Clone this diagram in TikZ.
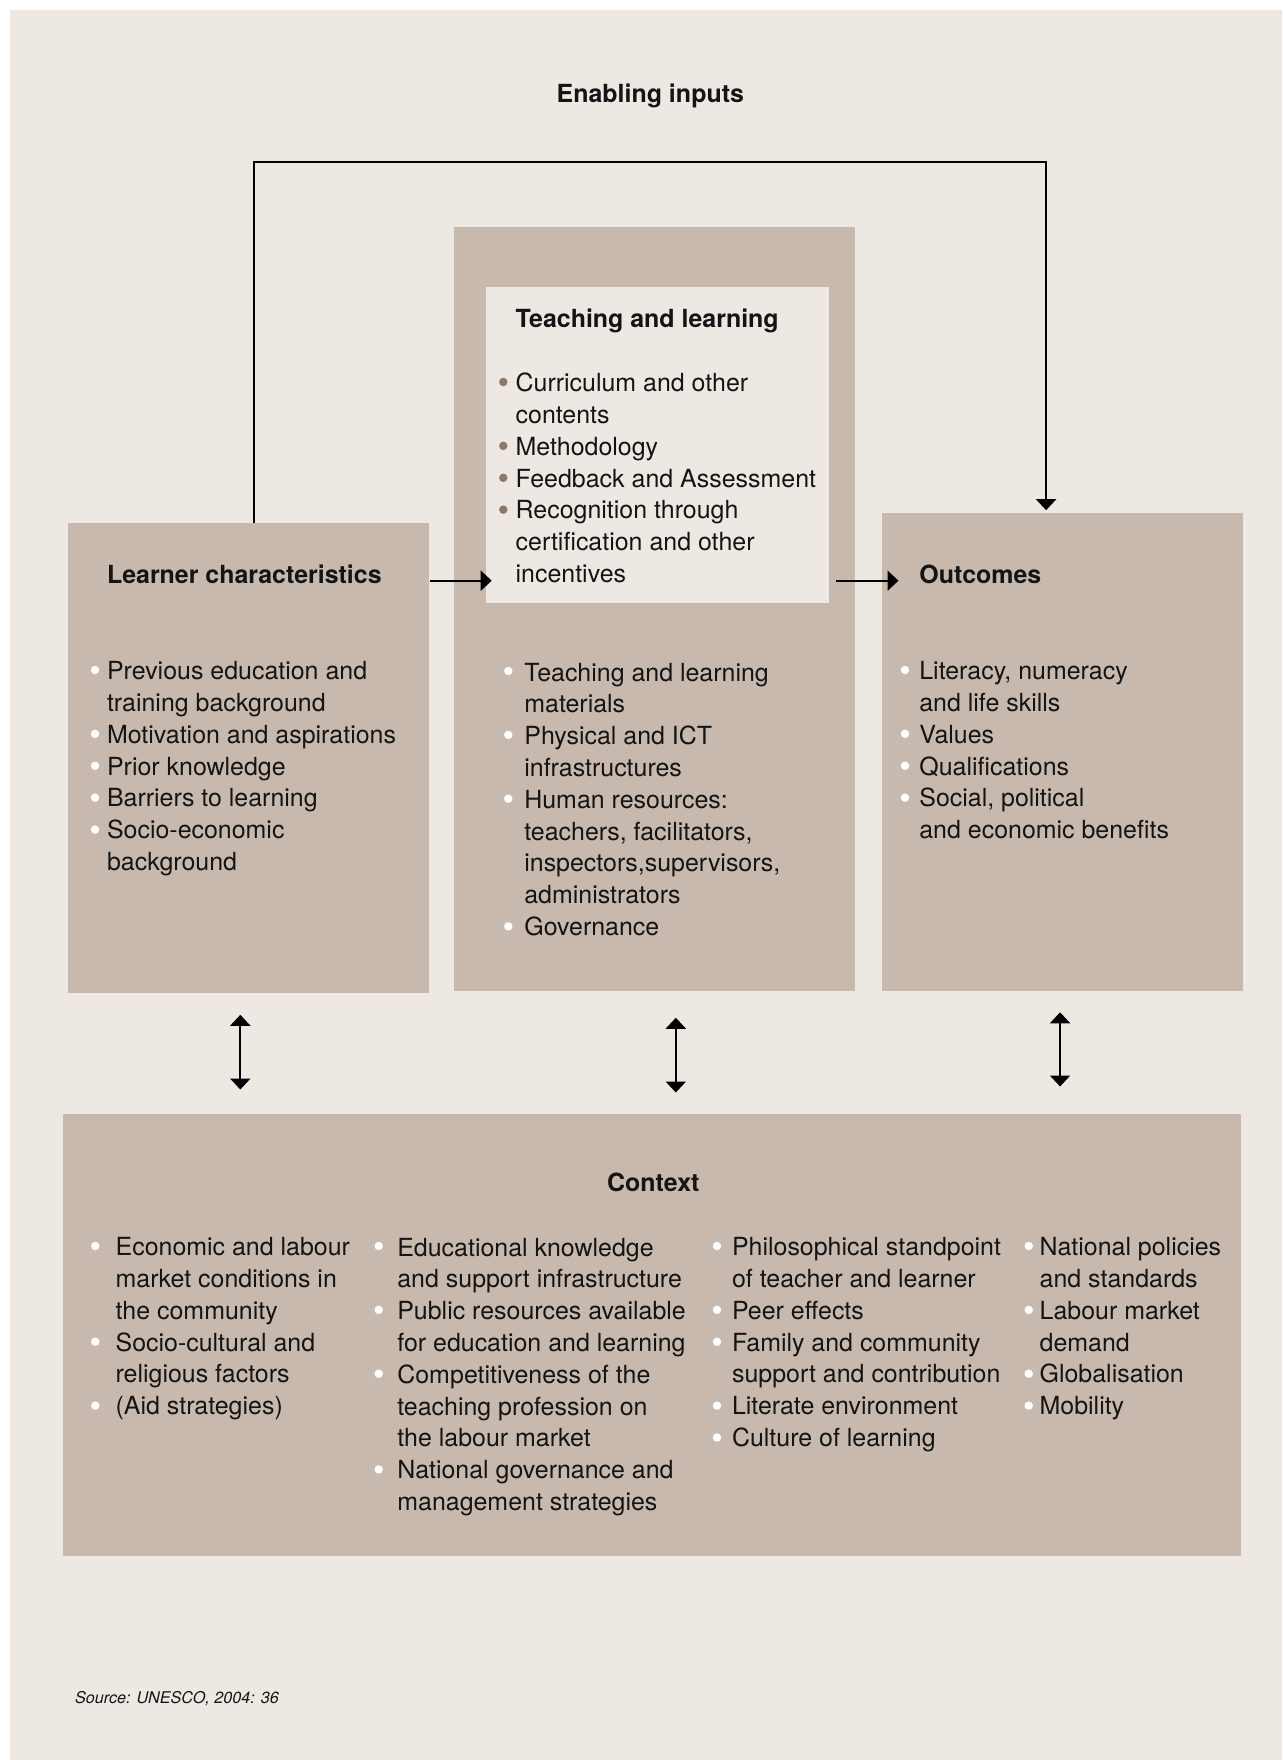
\documentclass[tikz,border=0pt]{standalone}
\usepackage{fontspec}
\setmainfont{TeX Gyre Heros}
\usetikzlibrary{arrows.meta}
\definecolor{paper}{HTML}{EDE8E2}
\definecolor{tan}{HTML}{C7B9AD}
\definecolor{dot}{HTML}{8C7A66}
\definecolor{ink}{HTML}{141414}
\tikzset{
	box/.style={fill=tan, anchor=north west, inner sep=0pt},
	txt/.style={anchor=base west, inner sep=0pt, align=left, text=ink, font=\fontsize{14.2pt}{18.1pt}\selectfont},
	head/.style={txt, font=\fontsize{14.2pt}{18.1pt}\selectfont\bfseries},
	arr/.style={line width=1.2pt, -{Triangle[length=0.22cm,width=0.4cm]}},
	dbl/.style={line width=1.2pt, {Triangle[length=0.22cm,width=0.4cm]}-{Triangle[length=0.22cm,width=0.4cm]}}
}
\begin{document}
\begin{tikzpicture}[x=0.02cm, y=-0.02cm]
\fill[white] (0,0) rectangle (1282,1760);
\fill[paper] (9.5,10) rectangle (1282,1760);

\node[box, minimum width=8.02cm, minimum height=15.28cm] (middle) at (454,226.7) {};
\node[box, fill=paper, minimum width=6.87cm, minimum height=6.32cm] (inner) at (485.7,286.7) {};
\node[box, minimum width=7.22cm, minimum height=9.41cm] (learner) at (68,522.7) {};
\node[box, minimum width=7.21cm, minimum height=9.56cm] (outcomes) at (882,512.7) {};
\node[box, minimum width=23.56cm, minimum height=8.83cm] (context) at (63,1114) {};

\node[head, anchor=base] (enabling) at (650.3,102.7) {Enabling inputs};
\node[head] (lhead) at (106.7,583.3) {Learner characteristics};
\node[head] (thead) at (515.3,327.3) {Teaching and learning};
\node[head] (ohead) at (919,583.3) {Outcomes};
\node[head, anchor=base] (chead) at (653.3,1191.7) {Context};

% lists sit on the baseline of their last line
\node[txt] (llist) at (106.7,870.5) {Previous education and\\training background\\Motivation and aspirations\\Prior knowledge\\Barriers to learning\\Socio-economic\\background};
\node[txt] (tlist) at (515.3,582.5) {Curriculum and other\\contents\\Methodology\\Feedback and Assessment\\Recognition through\\certification and other\\incentives};
\node[txt] (mlist) at (524,935.4) {Teaching and learning\\materials\\Physical and ICT\\infrastructures\\Human resources:\\teachers, facilitators,\\inspectors,supervisors,\\administrators\\Governance};
\node[txt] (olist) at (919,838.6) {Literacy, numeracy\\and life skills\\Values\\Qualifications\\Social, political\\and economic benefits};

\node[txt] (clist1) at (115.3,1414.6) {Economic and labour\\market conditions in\\the community\\Socio-cultural and\\religious factors\\(Aid strategies)};
\node[txt] (clist2) at (397,1510.4) {Educational knowledge\\and support infrastructure\\Public resources available\\for education and learning\\Competitiveness of the\\teaching profession on\\the labour market\\National governance and\\management strategies};
\node[txt] (clist3) at (731.7,1446.5) {Philosophical standpoint\\of teacher and learner\\Peer effects\\Family and community\\support and contribution\\Literate environment\\Culture of learning};
\node[txt] (clist4) at (1039.3,1414.6) {National policies\\and standards\\Labour market\\demand\\Globalisation\\Mobility};

\node[txt, font=\fontsize{9.2pt}{11pt}\selectfont\itshape] (source) at (74.7,1703) {Source: UNESCO, 2004: 36};

% bullets: x, first baseline, lines that carry one, colour
\foreach \x/\y/\lines/\c in {95/679/{0,2,3,4,5}/white, 503.3/391/{0,2,3,4}/dot, 508.3/680/{0,2,4,8}/white,
	905/679/{0,2,3,4}/white, 95.3/1255/{0,3,5}/white, 378.7/1255/{0,2,4,7}/white,
	717/1255/{0,2,3,5,6}/white, 1028.7/1255/{0,2,4,5}/white}
	\foreach \i in \lines
		\fill[\c] (\x,\y+\i*31.92-9) circle[radius=0.085cm];

\coordinate (loop) at (650,162.3);
\draw[arr] ([xshift=0.1cm]learner.north) |- (loop) -| ([xshift=-0.33cm,yshift=0.05cm]outcomes.north);
\coordinate (lrow) at ([yshift=-1.16cm]learner.north east);
\draw[arr, shorten >=-0.12cm] (lrow) -- (lrow -| inner.west);
\draw[arr, shorten <=0.12cm, shorten >=-0.33cm] (lrow -| inner.east) -- (lrow -| outcomes.west);
\foreach \n/\s/\a/\b in {learner/-0.17/0.42/0.49, middle/0.42/0.53/0.43, outcomes/-0.05/0.42/0.55}
	\draw[dbl, shorten <=\a cm, shorten >=\b cm] ([xshift=\s cm]\n.south) -- ([xshift=\s cm]\n.south |- context.north);
\end{tikzpicture}
\end{document}
